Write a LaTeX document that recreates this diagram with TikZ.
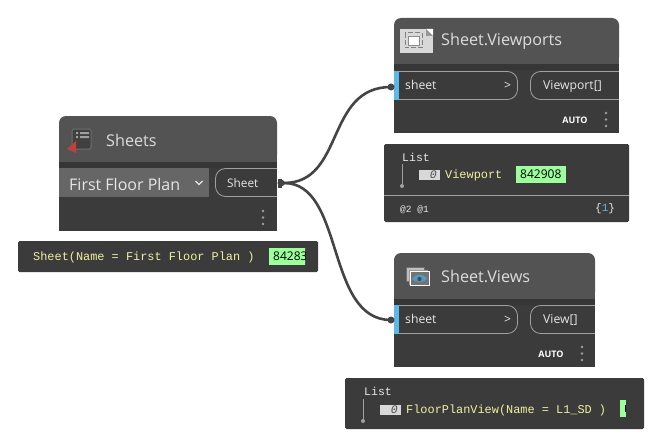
\documentclass[tikz,border=0pt]{standalone}
\usepackage{fontspec}
\setmainfont{Open Sans}
\newfontfamily\monof{Liberation Mono}
\definecolor{headc}{HTML}{535353}
\definecolor{bodyc}{HTML}{3B3B3B}
\definecolor{stripc}{HTML}{363636}
\definecolor{dropc}{HTML}{666666}
\definecolor{pillc}{HTML}{A0A0A0}
\definecolor{txtc}{HTML}{E6E6E6}
\definecolor{titlec}{HTML}{DCDCDC}
\definecolor{monoc}{HTML}{EFEFA0}
\definecolor{greenc}{HTML}{9BFF9B}
\definecolor{bluec}{HTML}{5CB8E6}
\definecolor{wirec}{HTML}{444444}
\definecolor{redc}{HTML}{C0403F}
\definecolor{idxc}{HTML}{D8D8D8}
\tikzset{
  x=1pt,y=-1pt,
  title/.style={anchor=west,inner sep=0pt,text=titlec,font=\fontsize{16.2}{18}\selectfont},
  port/.style={anchor=west,inner sep=0pt,text=txtc,font=\fontsize{12.2}{14}\selectfont},
  small/.style={anchor=center,inner sep=0pt,text=white,font=\fontsize{9}{11}\selectfont\bfseries},
  mono/.style={anchor=west,inner sep=0pt,text=monoc,font=\monof\fontsize{11.9}{14}\selectfont},
  monow/.style={anchor=west,inner sep=0pt,text=txtc,font=\monof\fontsize{11.5}{14}\selectfont},
  monos/.style={anchor=west,inner sep=0pt,text=txtc,font=\monof\fontsize{9.5}{12}\selectfont},
  num/.style={anchor=west,inner sep=0pt,text=black,font=\fontsize{12}{14}\selectfont},
  idx/.style={anchor=east,inner sep=0pt,text=black!70,font=\monof\itshape\fontsize{11.5}{12}\selectfont},
  pill/.style={draw=pillc,line width=.8pt,rounded corners=10pt},
  wire/.style={draw=wirec,line width=2.6pt},
  dot/.style={fill=pillc,draw=none},
}
\newcommand{\threedots}[2]{%
  \fill[dot] (#1,#2) circle (1.3pt) (#1,#2+6.5) circle (1.3pt) (#1,#2+13) circle (1.3pt);}
\newcommand{\dynnode}[5]{% x1 y1 x2 y2(header bottom) y3 (bottom)
  \fill[bodyc] (#1,#4) rectangle (#3,#5);
  \fill[headc,rounded corners=7pt] (#1,#4) -- (#1,#2) -- (#3,#2) -- (#3,#4) -- cycle;
  \fill[headc] (#1,#4-8) rectangle (#3,#4);
  \fill[stripc] (#1,#4) rectangle (#3,#4+6);}
\begin{document}
\begin{tikzpicture}
\useasboundingbox (0,0) rectangle (656,444);
\fill[white] (0,0) rectangle (656,444);

% Sheets node
\dynnode{59}{116}{277}{162}{231}
\fill[dropc] (59,168) rectangle (209,197);
\node[anchor=west,inner sep=0pt,text=txtc,font=\fontsize{16}{18}\selectfont] (dropt) at (69,184) {First Floor Plan};
\draw[txtc,line width=1.2pt] (195.5,181) -- (199,184.5) -- (202.5,181);
\draw[pill] (277,168.5) -- (215.5,168.5) -- (215.5,196.5) -- (277,196.5);
\node[port,font=\fontsize{11.8}{14}\selectfont] (sheetout) at (227,183) {Sheet};
\threedots{263}{211}
\node[title] (t1) at (106,140) {Sheets};
% icon of Sheets
\draw[pillc!70!black,line width=1pt,fill=black!75,rounded corners=1.5pt] (72,129) rectangle (91,149);
\fill[pillc] (76,132) rectangle (78,134) (80,132) rectangle (89,134) (76,136) rectangle (78,138) (80,136) rectangle (89,138);
\fill[redc] (67,149) -- (76,141) -- (76,153) -- cycle;

% output preview of Sheets
\fill[bodyc,rounded corners=1.5pt] (18,241) rectangle (318,272);
\begin{scope}
\clip (18,241) rectangle (305,272);
\fill[greenc] (269,248) rectangle (320,265);
\node[mono] (pv1) at (33,257.5) {Sheet(Name = First Floor Plan )};
\node[num] (n1) at (273,256) {842838};
\end{scope}

% Sheet.Viewports node
\dynnode{394}{18}{619}{64}{133}
\fill[idxc] (400,29) rectangle (433,53);
\fill[white] (433,29) -- (426,29) -- (433,36) -- cycle;
\fill[idxc!70!black] (426,29) -- (426,36) -- (433,36) -- cycle;
\draw[black!50,line width=1pt,dashed,dash pattern=on 5pt off 2pt] (405,33) rectangle (422,48);
\fill[white,draw=black!45,line width=.8pt] (408,36) rectangle (419,45);
\node[title] (t2) at (441,41.5) {Sheet.Viewports};
\draw[pill] (394,71.5) -- (517.5,71.5) -- (517.5,99.5) -- (394,99.5);
\fill[bluec] (394,71) rectangle (399,100);
\node[port] (in2) at (405,85) {sheet};
\node[port] at (504,86) {>};
\draw[pill] (619,71.5) -- (530.5,71.5) -- (530.5,99.5) -- (619,99.5);
\node[port] (out2) at (543,86) {Viewport[]};
\node[small] at (575,120) {AUTO};
\threedots{606}{113}

% Viewports preview
\fill[bodyc,rounded corners=1.5pt] (384,144) rectangle (629,222);
\draw[pillc,line width=.8pt] (384,195) -- (629,195);
\node[monow] (l2) at (402,157) {List};
\draw[pillc,line width=.8pt] (402,164) -- (402,186);
\fill[pillc] (402,186) circle (2pt);
\fill[idxc] (419,170) rectangle (440,180);
\node[idx] at (437,175) {0};
\node[mono] (pv2) at (445,175) {Viewport};
\fill[greenc] (516,166) rectangle (566,183);
\node[num] (n2) at (520,174) {842908};
\node[monos] at (400,210) {@2 @1};
\node[monow,font=\monof\fontsize{11}{14}\selectfont] at (595,209) {\{\textcolor{bluec}{1}\}};

% Sheet.Views node
\dynnode{394}{253}{595}{299}{367}
\fill[black!25] (406,267) rectangle (424,281);
\draw[pillc!70!black,line width=.7pt] (406,267) rectangle (424,281);
\fill[black!40] (409,270) rectangle (428,285);
\draw[white,line width=.9pt,fill=black!55] (410,271) rectangle (429,285);
\fill[bluec!85!black] (412,279) .. controls (416,273) and (423,273) .. (427,279) .. controls (423,283) and (416,283) .. (412,279) -- cycle;
\fill[black!70] (419.5,279) circle (2.2pt);
\node[title] (t3) at (441,276.5) {Sheet.Views};
\draw[pill] (394,305.5) -- (517.5,305.5) -- (517.5,333.5) -- (394,333.5);
\fill[bluec] (394,305) rectangle (399,334);
\node[port] (in3) at (405,319) {sheet};
\node[port] at (504,320) {>};
\draw[pill] (595,305.5) -- (530.5,305.5) -- (530.5,333.5) -- (595,333.5);
\node[port] (out3) at (543,320) {View[]};
\node[small] at (551,354) {AUTO};
\threedots{582}{347}

% Views preview
\fill[bodyc,rounded corners=1.5pt] (345,378) rectangle (644,429);
\node[monow] (l3) at (364,391) {List};
\draw[pillc,line width=.8pt] (363,399) -- (363,421);
\fill[pillc] (363,421) circle (2pt);
\fill[idxc] (380,405) rectangle (401,415);
\node[idx] at (398,410) {0};
\node[mono] (pv3) at (406,410) {FloorPlanView(Name = L1\_SD )};
\fill[greenc] (620,400) rectangle (626,417);
\fill[black] (625,405) rectangle (626,412);

% Connectors
\coordinate (src) at (284,183);
\coordinate (dst1) at (391,87);
\coordinate (dst2) at (391,320);
\draw[wire] (src) .. controls (345,183) and (325,87) .. (dst1);
\draw[wire] (src) .. controls (345,183) and (325,320) .. (dst2);
\fill[wirec] (278,179) rectangle (282,188);
\fill[wirec] (281,183) circle (3.5pt);
\fill[wirec] (391,87) circle (3.5pt);
\fill[wirec] (391,320) circle (3.5pt);
\end{tikzpicture}
\end{document}
